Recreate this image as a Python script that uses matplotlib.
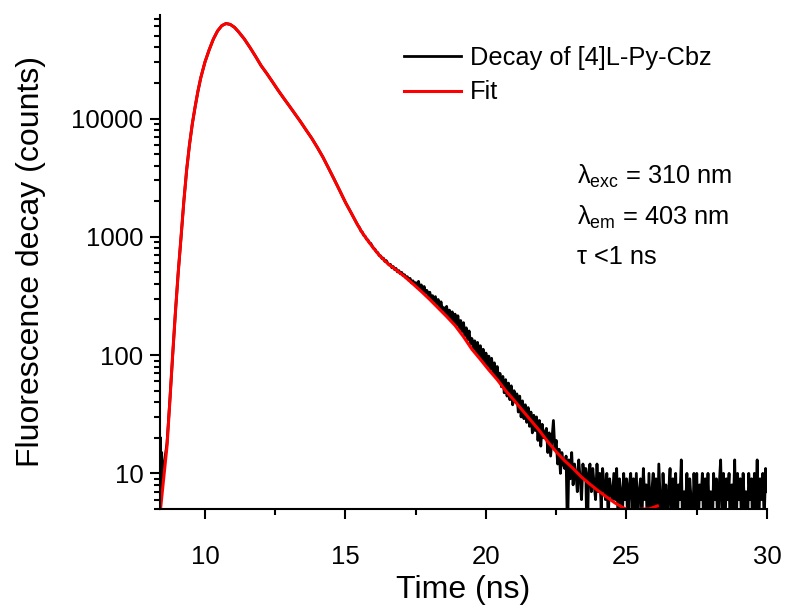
import numpy as np
import matplotlib
matplotlib.use("Agg")
from matplotlib import pyplot as plt
from matplotlib.ticker import MultipleLocator, LogLocator, FixedLocator, FuncFormatter, NullFormatter

plt.rcParams['font.family'] = ['Liberation Sans', 'DejaVu Sans']
plt.rcParams['mathtext.fontset'] = 'custom'
plt.rcParams['mathtext.rm'] = 'Liberation Sans'

# Ajuste (linea roja)
fit_t = [8.42, 8.55, 8.65, 8.75, 8.85, 8.95, 9.05, 9.15, 9.25, 9.35, 9.45, 9.55, 9.65, 9.75, 9.85,
         10.0, 10.15, 10.3, 10.45, 10.6, 10.75, 10.9, 11.05, 11.2, 11.4, 11.6, 11.8, 12.0, 12.2,
         12.4, 12.6, 12.8, 13.0, 13.2, 13.4, 13.6, 13.8, 14.0, 14.2, 14.4, 14.6, 14.8, 15.0, 15.2,
         15.4, 15.6, 15.8, 16.0, 16.2, 16.5, 16.8, 17.1, 17.4, 17.7, 18.0, 18.3, 18.6, 18.9, 19.2,
         19.5, 19.8, 20.1, 20.4, 20.7, 21.0, 21.3, 21.6, 21.9, 22.2, 22.5, 22.8, 23.1, 23.4, 23.7,
         24.0, 24.3, 24.6, 24.9, 25.1, 25.3, 25.6, 25.8, 26.1]
fit_counts = [5, 10, 17, 40, 100, 230, 500, 1000, 2000, 3700, 6000, 9000, 12500, 17000, 22000,
              30000, 38000, 47000, 55000, 61000, 63500, 62500, 59000, 54000, 47000, 40000, 33500,
              28000, 24000, 20500, 17400, 14900, 12800, 11000, 9400, 8000, 6800, 5700, 4700, 3800,
              3050, 2450, 1950, 1600, 1300, 1080, 925, 800, 700, 595, 525, 462, 400, 345, 295, 250,
              212, 178, 143, 112, 92, 75, 62, 50, 41.5, 34, 28, 23, 18.5, 15.2, 12.8, 11, 9.3, 8.1,
              7.1, 6.3, 5.6, 5.1, 4.85, 4.9, 5.0, 5.0, 5.3]

# Datos: subida y pico
decay_head_t = [8.40, 8.42, 8.44, 8.46, 8.48, 8.50, 8.55, 8.65, 8.75, 8.85, 8.95, 9.05, 9.15, 9.25,
                9.35, 9.45, 9.55, 9.65, 9.75, 9.85, 10.0, 10.15, 10.3, 10.45, 10.6, 10.75, 10.9,
                11.05, 11.2, 11.4, 11.6, 11.8, 12.0, 12.2, 12.4, 12.6, 12.8, 13.0, 13.2, 13.4, 13.6,
                13.8, 14.0, 14.2, 14.4, 14.6, 14.8, 15.0, 15.2, 15.4, 15.45]
decay_head_counts = [2, 20, 7, 15, 8, 10, 12, 18, 41, 98, 232, 505, 990, 2010, 3690, 6020, 8980,
                     12550, 16950, 22050, 29950, 38100, 46900, 55100, 60900, 63600, 62400, 59100,
                     53900, 47100, 39900, 33600, 27900, 24050, 20450, 17350, 14850, 12800, 10950,
                     9420, 7980, 6820, 5690, 4710, 3790, 3060, 2440, 1955, 1595, 1305, 1240]

# Datos: cola, canales de 0.05 ns desde 15.5 ns
tail_start = 15.5
tail_step = 0.05
decay_tail_counts = [
    1195, 1120, 1095, 1030, 1010, 955, 940, 890, 880, 835, 800, 785, 745, 735, 695, 690, 655, 660, 620, 630,
    600, 578, 585, 548, 560, 528, 540, 505, 518, 488, 500, 470, 478, 450, 460, 430, 445, 408, 425, 398,
    410, 372, 420, 360, 392, 345, 380, 335, 352, 312, 340, 300, 318, 284, 312, 268, 295, 250, 282, 240,
    252, 222, 258, 210, 240, 200, 232, 190, 222, 180, 215, 165, 196, 158, 188, 146, 170, 135, 160, 125,
    138, 112, 132, 104, 128, 98, 120, 92, 112, 86, 104, 80, 98, 76, 94, 70, 86, 66, 80, 62,
    70, 54, 66, 48, 62, 45, 58, 42, 55, 38, 50, 40, 47, 33, 45, 30, 41, 29, 38, 27,
    36, 25, 33, 22, 31, 23, 30, 19, 28, 17, 26, 20, 22, 24, 15, 22, 14, 20, 28, 16,
    19, 12, 16, 10, 15, 12, 11, 14, 3, 13, 9, 15, 8, 12, 10, 7, 13, 9, 6, 12,
    9, 11, 2, 10, 12, 7, 11, 8, 6, 12, 7, 10, 5, 11, 8, 6, 10, 4, 9, 7,
    6, 10, 6, 11, 4, 9, 7, 4, 10, 6, 9, 3, 8, 10, 5, 9, 4, 10, 4, 7,
    9, 4, 11, 6, 8, 3, 10, 3, 7, 10, 4, 9, 3, 12, 6, 3, 10, 5, 8, 3,
    7, 11, 4, 9, 5, 10, 3, 8, 6, 13, 3, 7, 5, 10, 2, 9, 6, 3, 10, 5,
    10, 3, 8, 6, 10, 3, 9, 5, 10, 4, 7, 3, 10, 6, 9, 3, 8, 13, 4, 10,
    3, 9, 6, 10, 2, 8, 5, 13, 3, 10, 6, 9, 3, 10, 5, 7, 3, 10, 6, 9,
    2, 10, 5, 13, 3, 9, 6, 10, 4, 11, 7]

tail_t = tail_start + tail_step * np.arange(len(decay_tail_counts))
decay_t = np.concatenate([decay_head_t, tail_t])
decay_counts = np.concatenate([decay_head_counts, decay_tail_counts])

fig = plt.figure(figsize=(7.9, 6.1), dpi=100)
ax = fig.add_axes([0.2025, 0.1656, 0.7684, 0.8098])

ax.plot(decay_t, decay_counts, color="black", lw=2.0, label="Decay of [4]L-Py-Cbz")
ax.plot(fit_t, fit_counts, color="red", lw=2.2, label="Fit")

ax.set_yscale("log")
ax.set_xlim(8.4, 30)
ax.set_ylim(5, 75000)

ax.xaxis.set_major_locator(MultipleLocator(5))
ax.xaxis.set_minor_locator(MultipleLocator(2.5))
ax.yaxis.set_major_locator(FixedLocator([10, 100, 1000, 10000]))
ax.yaxis.set_major_formatter(FuncFormatter(lambda v, p: f"{v:g}"))
ax.yaxis.set_minor_locator(LogLocator(base=10, subs=np.arange(2, 10), numticks=20))
ax.yaxis.set_minor_formatter(NullFormatter())

for s in ["top", "right"]:
    ax.spines[s].set_visible(False)
for s in ["left", "bottom"]:
    ax.spines[s].set_linewidth(1.5)

ax.tick_params(which="major", length=7, width=1.5, labelsize=18.5)
ax.tick_params(which="minor", length=4, width=1.5)
ax.tick_params(axis="x", which="major", pad=19)
ax.tick_params(axis="y", which="major", pad=5)

ax.set_xlabel("Time (ns)", fontsize=23, labelpad=4)
ax.set_ylabel("Fluorescence decay (counts)", fontsize=23, labelpad=18)

fig.legend(loc="upper left", bbox_to_anchor=(0.511, 0.925), frameon=False, fontsize=18.3,
           handlelength=2.27, handletextpad=0.35, labelspacing=0.42, borderpad=0, borderaxespad=0)

fig.text(0.730, 0.698, "λ$_{\\mathregular{exc}}$ = 310 nm", fontsize=18.3, va="baseline")
fig.text(0.730, 0.6315, "λ$_{\\mathregular{em}}$ = 403 nm", fontsize=18.3, va="baseline")
fig.text(0.730, 0.568, "τ <1 ns", fontsize=18.3, va="baseline")

fig.savefig("out.png", dpi=100)
